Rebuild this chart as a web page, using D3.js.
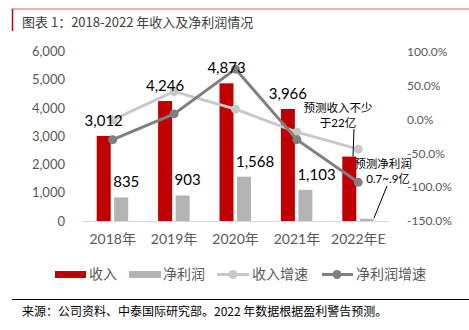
<!DOCTYPE html>
<html>
<head>
<meta charset="utf-8">
<script src="https://cdn.jsdelivr.net/npm/d3@7"></script>
<style>
body{margin:0;background:#fff;}
svg{display:block;}
text{font-family:Lato,"Noto Sans CJK SC",sans-serif;}
.cjk{font-family:"Noto Sans CJK SC",sans-serif;}
</style>
</head>
<body>
<svg id="chart" width="469" height="330"></svg>
<script>
var years = ["2018年", "2019年", "2020年", "2021年", "2022年E"];
var revenue = [3012, 4246, 4873, 3966, 2280];
var profit = [835, 903, 1568, 1103, 80];
var revGrowth = [-1, 41, 15, -19, -44];
var profitGrowth = [-30, 8, 74, -30, -93];
var showLabel = [true, true, true, true, false];
var leftTicks = [0, 1000, 2000, 3000, 4000, 5000, 6000];
var rightTicks = [-150, -100, -50, 0, 50, 100];
var legendNames = ["收入", "净利润", "收入增速", "净利润增速"];

var red = "#C00000", barGray = "#B4B4B4", lightLine = "#C8C8C8", darkLine = "#808080", axisText = "#595959";

var svg = d3.select("#chart");

// header
svg.append("line").attr("x1", 12).attr("x2", 469).attr("y1", 9).attr("y2", 9).attr("stroke", "#E06060").attr("stroke-width", 1);
svg.append("line").attr("x1", 12.5).attr("x2", 12.5).attr("y1", 9).attr("y2", 31).attr("stroke", red).attr("stroke-width", 1.5);
svg.append("text").attr("x", 22).attr("y", 27).attr("class", "cjk").attr("font-size", 13).attr("fill", "#404040")
	.text("图表 1：2018-2022 年收入及净利润情况");

var x = d3.scaleBand().domain(years).range([82, 389]);
var yL = d3.scaleLinear().domain([0, 6000]).range([221, 51.5]);
var yR = d3.scaleLinear().domain([-150, 100]).range([221, 51.5]);

// axes
var gl = svg.append("g").attr("transform", "translate(68,0)")
	.call(d3.axisLeft(yL).tickValues(leftTicks).tickSize(0).tickFormat(d3.format(",")));
gl.select(".domain").remove();
gl.selectAll("text").attr("font-size", 13).attr("fill", axisText).attr("font-family", "Lato");

var gr = svg.append("g").attr("transform", "translate(404,0)")
	.call(d3.axisRight(yR).tickValues(rightTicks).tickSize(0).tickFormat(function(d){ return d.toFixed(1) + "%"; }));
gr.select(".domain").remove();
gr.selectAll("text").attr("font-size", 12).attr("fill", axisText).attr("font-family", "Lato");

svg.append("line").attr("x1", 82).attr("x2", 389).attr("y1", 221.5).attr("y2", 221.5).attr("stroke", "#D9D9D9");

var gx = svg.append("g").attr("transform", "translate(0,221)")
	.call(d3.axisBottom(x).tickSize(0).tickPadding(13));
gx.select(".domain").remove();
gx.selectAll("text").attr("font-size", 14).attr("fill", axisText).attr("font-family", "Lato,'Noto Sans CJK SC'");

// bars
var cx = function(i){ return x(years[i]) + x.bandwidth() / 2; };
svg.append("g").selectAll("rect").data(revenue).enter().append("rect")
	.attr("x", function(d, i){ return cx(i) - 16; })
	.attr("width", 14)
	.attr("y", function(d){ return yL(d); })
	.attr("height", function(d){ return yL(0) - yL(d); })
	.attr("fill", red);
svg.append("g").selectAll("rect").data(profit).enter().append("rect")
	.attr("x", function(d, i){ return cx(i) + 1.5; })
	.attr("width", 14)
	.attr("y", function(d){ return yL(d); })
	.attr("height", function(d){ return yL(0) - yL(d); })
	.attr("fill", barGray);

// lines
var line = d3.line().x(function(d, i){ return cx(i); }).y(function(d){ return yR(d); });
[[revGrowth, lightLine], [profitGrowth, darkLine]].forEach(function(s){
	svg.append("path").datum(s[0]).attr("d", line).attr("fill", "none").attr("stroke", s[1]).attr("stroke-width", 3);
	svg.append("g").selectAll("circle").data(s[0]).enter().append("circle")
		.attr("cx", function(d, i){ return cx(i); })
		.attr("cy", function(d){ return yR(d); })
		.attr("r", 4.5).attr("fill", s[1]);
});

// value labels
svg.append("g").selectAll("text").data(revenue).enter().filter(function(d, i){ return showLabel[i]; }).append("text")
	.attr("x", function(d, i){ return cx(i) - 9; })
	.attr("y", function(d){ return yL(d) - 10; })
	.attr("text-anchor", "middle").attr("font-size", 15).attr("fill", "#000")
	.text(function(d){ return d3.format(",")(d); });
svg.append("g").selectAll("text").data(profit).enter().filter(function(d, i){ return showLabel[i]; }).append("text")
	.attr("x", function(d, i){ return cx(i) + 0.5; })
	.attr("y", function(d){ return yL(d) - 10; })
	.attr("text-anchor", "start").attr("font-size", 15).attr("fill", "#000")
	.text(function(d){ return d3.format(",")(d); });

// annotations
var ann = svg.append("g").attr("class", "cjk").attr("font-size", 11.5).attr("fill", "#000");
ann.append("text").attr("x", 338).attr("y", 112).attr("text-anchor", "middle").text("预测收入不少");
ann.append("text").attr("x", 338).attr("y", 127).attr("text-anchor", "middle").text("于22亿");
ann.append("line").attr("x1", 354).attr("y1", 129).attr("x2", 353).attr("y2", yL(revenue[4])).attr("stroke", "#000");
ann.append("text").attr("x", 383).attr("y", 168).attr("text-anchor", "middle").text("预测净利润");
ann.append("text").attr("x", 388).attr("y", 183).attr("text-anchor", "middle").text("0.7~.9亿");
ann.append("line").attr("x1", 387).attr("y1", 186).attr("x2", 374).attr("y2", 218).attr("stroke", "#000");

// legend
var lg = svg.append("g").attr("font-size", 14).attr("fill", axisText);
lg.append("rect").attr("x", 55).attr("y", 271).attr("width", 31).attr("height", 7).attr("fill", red);
lg.append("text").attr("class", "cjk").attr("x", 89).attr("y", 279).text(legendNames[0]);
lg.append("rect").attr("x", 129).attr("y", 271).attr("width", 32).attr("height", 7).attr("fill", barGray);
lg.append("text").attr("class", "cjk").attr("x", 163).attr("y", 279).text(legendNames[1]);
lg.append("line").attr("x1", 217).attr("x2", 249).attr("y1", 274.5).attr("y2", 274.5).attr("stroke", lightLine).attr("stroke-width", 3);
lg.append("circle").attr("cx", 233).attr("cy", 274.5).attr("r", 4.5).attr("fill", lightLine);
lg.append("text").attr("class", "cjk").attr("x", 252).attr("y", 279).text(legendNames[2]);
lg.append("line").attr("x1", 322).attr("x2", 353).attr("y1", 274.5).attr("y2", 274.5).attr("stroke", darkLine).attr("stroke-width", 3);
lg.append("circle").attr("cx", 337).attr("cy", 274.5).attr("r", 4.5).attr("fill", darkLine);
lg.append("text").attr("class", "cjk").attr("x", 356).attr("y", 279).text(legendNames[3]);

// footer
svg.append("line").attr("x1", 12).attr("x2", 469).attr("y1", 299.5).attr("y2", 299.5).attr("stroke", "#000").attr("stroke-width", 1);
svg.append("text").attr("class", "cjk").attr("x", 22).attr("y", 316).attr("font-size", 12).attr("fill", "#000")
	.text("来源：公司资料、中泰国际研究部。2022 年数据根据盈利警告预测。");
</script>
</body>
</html>
